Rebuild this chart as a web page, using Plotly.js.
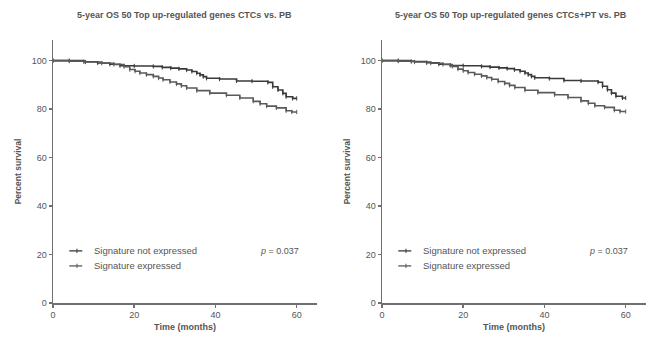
<!DOCTYPE html>
<html>
<head>
<meta charset="utf-8">
<script src="https://cdn.plot.ly/plotly-3.0.1.min.js"></script>
<style>
  html, body { margin: 0; padding: 0; background: #fff; }
  #chart { width: 660px; height: 340px; }
</style>
</head>
<body>
<div id="chart"></div>
<script>
// Kaplan-Meier estimates (percent survival) by time in months

// Panel A: CTCs vs. PB
const timeA_not = [0, 4, 7.6, 11, 14, 16.5, 20, 24.7, 26.9, 29, 31, 32.9, 34.2, 35.4, 36.2, 37, 37.8, 41, 45.2, 49, 52.9, 54.1, 55.4, 56.6, 57.4, 59, 60];
const survA_not = [100, 100, 99.5, 99.0, 98.5, 97.9, 97.8, 97.6, 97.2, 96.9, 96.6, 96.1, 95.5, 94.8, 94.1, 93.4, 92.7, 92.4, 91.6, 91.5, 91.0, 89.2, 87.9, 86.5, 85.1, 84.4, 84.4];
const timeA_exp = [0, 4, 8, 12, 15, 17.5, 18.9, 20.2, 21.4, 23, 24.7, 26, 27.1, 28.8, 30.4, 31.6, 32.9, 35.4, 38.6, 42.7, 46, 49.3, 51, 52.6, 55, 57.4, 58.8, 60];
const survA_exp = [100, 99.8, 99.4, 98.9, 98.4, 97.5, 96.3, 95.6, 94.9, 94.2, 93.5, 92.8, 92.1, 91.2, 90.4, 89.6, 88.7, 87.6, 86.6, 85.7, 84.6, 83.2, 82.2, 81.2, 80.5, 79.3, 78.8, 78.8];

// Panel B: CTCs+PT vs. PB
const timeB_not = [0, 4, 7.2, 11, 14, 16.8, 20, 24.5, 26.6, 28.8, 30.8, 32.6, 34, 35.2, 36, 36.8, 37.6, 41.2, 44.8, 49, 53.2, 54.3, 55.5, 56.5, 57.6, 59.2, 60];
const survB_not = [100, 100, 99.6, 99.1, 98.5, 98.0, 97.9, 97.6, 97.3, 97.0, 96.7, 96.2, 95.6, 94.9, 94.2, 93.5, 92.9, 92.6, 91.8, 91.6, 91.1, 89.4, 88.0, 86.6, 85.3, 84.6, 84.6];
const timeB_exp = [0, 4, 8, 12, 15, 17.3, 18.7, 20, 21.2, 22.8, 24.5, 25.8, 27, 28.6, 30.2, 31.4, 32.7, 35.2, 38.4, 42.5, 45.8, 49, 50.8, 52.4, 54.8, 57.2, 58.6, 60];
const survB_exp = [100, 99.8, 99.4, 98.9, 98.4, 97.6, 96.5, 95.8, 95.1, 94.4, 93.7, 93.0, 92.3, 91.4, 90.6, 89.8, 88.9, 87.8, 86.8, 85.9, 84.8, 83.4, 82.4, 81.4, 80.7, 79.5, 79.0, 79.0];

const groupNames = ['Signature not expressed', 'Signature expressed'];
const panelTitles = ['5-year OS 50 Top up-regulated genes CTCs vs. PB',
                     '5-year OS 50 Top up-regulated genes CTCs+PT vs. PB'];
const pValues = ['0.037', '0.037'];
const yTicks = [0, 20, 40, 60, 80, 100];
const xTicks = [0, 20, 40, 60];

const FONT = 'Liberation Sans, Arial, sans-serif';
const TXT = '#555555';
const AX = '#707070';
const lineColors = ['#3a3a3a', '#5a5a5a'];

function kmTrace(t, s, color, xa, ya, name) {
  return {
    x: t, y: s, name: name, xaxis: xa, yaxis: ya,
    type: 'scatter', mode: 'lines+markers',
    line: { shape: 'hv', color: color, width: 1.6 },
    marker: { symbol: 'line-ns-open', size: 3, color: color, line: { width: 1, color: color } },
    showlegend: false, hoverinfo: 'skip'
  };
}

const traces = [
  kmTrace(timeA_not, survA_not, lineColors[0], 'x', 'y', groupNames[0]),
  kmTrace(timeA_exp, survA_exp, lineColors[1], 'x', 'y', groupNames[1]),
  kmTrace(timeB_not, survB_not, lineColors[0], 'x2', 'y2', groupNames[0]),
  kmTrace(timeB_exp, survB_exp, lineColors[1], 'x2', 'y2', groupNames[1])
];

function xAxis(domain, anchor) {
  return {
    domain: domain, anchor: anchor, range: [0, 65],
    tickvals: xTicks, ticks: 'outside', ticklen: 3, tickwidth: 1.5, tickcolor: AX,
    showline: true, linecolor: AX, linewidth: 1.5, showgrid: false, zeroline: false,
    tickfont: { family: FONT, size: 9, color: TXT },
    title: { text: 'Time (months)', font: { family: FONT, size: 9, color: TXT, weight: 'bold' }, standoff: 4 },
    automargin: false
  };
}
function yAxis(anchor) {
  return {
    domain: [37 / 340, 300 / 340], anchor: anchor, range: [0, 108.5],
    tickvals: yTicks, ticks: 'outside', ticklen: 3, tickwidth: 1.5, tickcolor: AX,
    showline: true, linecolor: AX, linewidth: 1.5, showgrid: false, zeroline: false,
    tickfont: { family: FONT, size: 9, color: TXT },
    title: { text: 'Percent survival', font: { family: FONT, size: 8.5, color: TXT, weight: 'bold' }, standoff: 8 },
    automargin: false
  };
}

const annotations = [];
const shapes = [];
const panels = [
  { xa: 'x', ya: 'y', left: 53 / 660, right: 317 / 660 },
  { xa: 'x2', ya: 'y2', left: 382 / 660, right: 646 / 660 }
];
panels.forEach((p, i) => {
  annotations.push({
    xref: 'paper', yref: 'paper', x: (p.left + p.right) / 2 + (i === 0 ? 0 : -0.004), y: 1 - 15 / 340,
    text: '<b>' + panelTitles[i] + '</b>', showarrow: false,
    font: { family: FONT, size: 9, color: TXT }, xanchor: 'center', yanchor: 'middle'
  });
  // legend entries drawn inside the plot area
  const rows = [21.5, 15.3];
  groupNames.forEach((g, k) => {
    annotations.push({
      xref: p.xa, yref: p.ya, x: 9.5, y: rows[k], text: g, showarrow: false,
      xanchor: 'left', yanchor: 'middle', font: { family: FONT, size: 9.5, color: TXT }
    });
    shapes.push({ type: 'line', xref: p.xa, yref: p.ya, x0: 4, x1: 7.2, y0: rows[k], y1: rows[k],
      line: { color: lineColors[k], width: 1.3 } });
    shapes.push({ type: 'line', xref: p.xa, yref: p.ya, x0: 5.9, x1: 5.9, y0: rows[k] - 0.9, y1: rows[k] + 0.9,
      line: { color: lineColors[k], width: 1 } });
  });
  annotations.push({
    xref: p.xa, yref: p.ya, x: 61, y: 21.5, text: '<i>p</i> = ' + pValues[i], showarrow: false,
    xanchor: 'right', yanchor: 'middle', font: { family: FONT, size: 9, color: TXT }
  });
});

const layout = {
  width: 660, height: 340,
  margin: { l: 0, r: 0, t: 0, b: 0 },
  paper_bgcolor: '#ffffff', plot_bgcolor: '#ffffff',
  showlegend: false,
  xaxis: xAxis([53 / 660, 317 / 660], 'y'),
  yaxis: yAxis('x'),
  xaxis2: xAxis([382 / 660, 646 / 660], 'y2'),
  yaxis2: yAxis('x2'),
  annotations: annotations,
  shapes: shapes
};

Plotly.newPlot('chart', traces, layout, { displayModeBar: false, staticPlot: true });
</script>
</body>
</html>
